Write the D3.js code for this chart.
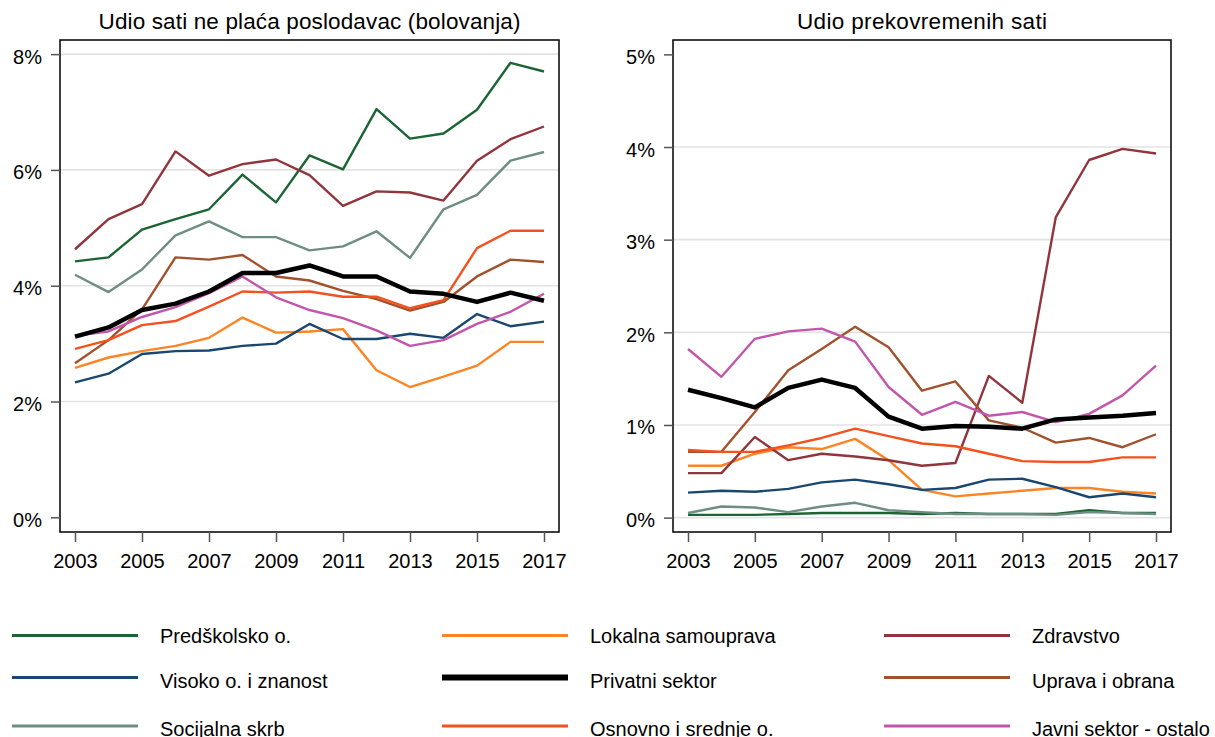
<!DOCTYPE html>
<html>
<head>
<meta charset="utf-8">
<script src="https://cdn.jsdelivr.net/npm/d3@7"></script>
<style>
  body { margin: 0; background: #fff; }
  text { font-family: "Liberation Sans", Arial, sans-serif; }
</style>
</head>
<body>
<script>
const svgWidth = 1215;
const svgHeight = 737;

const years = d3.range(2003, 2018);

// series in legend order (row by row)
const seriesNames = ["Predškolsko o.", "Lokalna samouprava", "Zdravstvo",
    "Visoko o. i znanost", "Privatni sektor", "Uprava i obrana",
    "Socijalna skrb", "Osnovno i srednje o.", "Javni sektor - ostalo"];
const seriesColors = ["#1c6434", "#fd8424", "#90353b",
    "#1a476f", "#000000", "#a0522d",
    "#6e8e84", "#f4511e", "#c256ac"];

// Udio sati ne plaća poslodavac (bolovanja), %
const sickPredskolsko = [4.42, 4.49, 4.97, 5.15, 5.32, 5.92, 5.44, 6.25, 6.01, 7.05, 6.54, 6.63, 7.04, 7.85, 7.70];
const sickLokalna     = [2.58, 2.76, 2.87, 2.96, 3.10, 3.45, 3.19, 3.21, 3.25, 2.54, 2.25, 2.43, 2.62, 3.03, 3.03];
const sickZdravstvo   = [4.63, 5.15, 5.41, 6.32, 5.90, 6.10, 6.18, 5.91, 5.38, 5.63, 5.61, 5.47, 6.16, 6.53, 6.75];
const sickVisoko      = [2.33, 2.48, 2.82, 2.87, 2.88, 2.96, 3.00, 3.34, 3.08, 3.08, 3.17, 3.10, 3.51, 3.30, 3.38];
const sickPrivatni    = [3.12, 3.28, 3.58, 3.69, 3.90, 4.22, 4.22, 4.35, 4.16, 4.16, 3.90, 3.86, 3.72, 3.88, 3.74];
const sickUprava      = [2.66, 3.06, 3.59, 4.49, 4.45, 4.53, 4.16, 4.09, 3.91, 3.77, 3.57, 3.72, 4.16, 4.45, 4.41];
const sickSocijalna   = [4.19, 3.89, 4.28, 4.87, 5.11, 4.84, 4.84, 4.61, 4.68, 4.94, 4.48, 5.32, 5.57, 6.16, 6.31];
const sickOsnovno     = [2.91, 3.06, 3.32, 3.39, 3.64, 3.90, 3.88, 3.90, 3.81, 3.81, 3.61, 3.75, 4.65, 4.95, 4.95];
const sickJavni       = [3.14, 3.21, 3.46, 3.63, 3.87, 4.16, 3.80, 3.58, 3.44, 3.23, 2.96, 3.06, 3.34, 3.55, 3.86];

// Udio prekovremenih sati, %
const overPredskolsko = [0.03, 0.03, 0.03, 0.04, 0.05, 0.05, 0.05, 0.04, 0.05, 0.04, 0.04, 0.04, 0.08, 0.05, 0.05];
const overLokalna     = [0.56, 0.56, 0.69, 0.76, 0.74, 0.85, 0.62, 0.30, 0.23, 0.26, 0.29, 0.32, 0.32, 0.28, 0.26];
const overZdravstvo   = [0.48, 0.48, 0.87, 0.62, 0.69, 0.66, 0.62, 0.56, 0.59, 1.53, 1.24, 3.24, 3.86, 3.98, 3.93];
const overVisoko      = [0.27, 0.29, 0.28, 0.31, 0.38, 0.41, 0.36, 0.30, 0.32, 0.41, 0.42, 0.33, 0.22, 0.26, 0.22];
const overPrivatni    = [1.38, 1.29, 1.19, 1.40, 1.49, 1.40, 1.09, 0.96, 0.99, 0.98, 0.96, 1.06, 1.08, 1.10, 1.13];
const overUprava      = [0.71, 0.71, 1.14, 1.59, 1.82, 2.06, 1.84, 1.37, 1.47, 1.05, 0.97, 0.81, 0.86, 0.76, 0.90];
const overSocijalna   = [0.05, 0.12, 0.11, 0.06, 0.12, 0.16, 0.08, 0.06, 0.04, 0.04, 0.04, 0.03, 0.06, 0.05, 0.04];
const overOsnovno     = [0.73, 0.71, 0.71, 0.78, 0.86, 0.96, 0.88, 0.80, 0.77, 0.69, 0.61, 0.60, 0.60, 0.65, 0.65];
const overJavni       = [1.82, 1.52, 1.93, 2.01, 2.04, 1.90, 1.41, 1.11, 1.25, 1.10, 1.14, 1.03, 1.12, 1.32, 1.64];

const sickSeries = [sickPredskolsko, sickLokalna, sickZdravstvo, sickVisoko, sickPrivatni,
    sickUprava, sickSocijalna, sickOsnovno, sickJavni];
const overSeries = [overPredskolsko, overLokalna, overZdravstvo, overVisoko, overPrivatni,
    overUprava, overSocijalna, overOsnovno, overJavni];

const sickTicks = [0, 2, 4, 6, 8];
const overTicks = [0, 1, 2, 3, 4, 5];
const yearTicks = [2003, 2005, 2007, 2009, 2011, 2013, 2015, 2017];

var svg = d3.select("body").append("svg")
    .attr("id", "chart")
    .attr("width", svgWidth)
    .attr("height", svgHeight);

// draws one panel
function drawPanel(opts) {
    const box = opts.box;
    const x = d3.scaleLinear().domain([2003, 2017]).range([box.x0 + 15, box.x1 - 15]);
    const y = d3.scaleLinear().domain(opts.domain).range([box.y1, box.y0]);

    const g = svg.append("g");

    // gridlines (not on the axis limits like Stata)
    g.selectAll(".grid")
    .data(opts.grid)
    .enter().append("line")
    .attr("x1", box.x0)
    .attr("x2", box.x1)
    .attr("y1", d => y(d))
    .attr("y2", d => y(d))
    .attr("stroke", "#e3e3e3")
    .attr("stroke-width", 1.6);

    const line = d3.line()
    .x((d, i) => x(years[i]))
    .y(d => y(d));

    // draw all except black, then black on top
    const order = [0, 1, 2, 3, 5, 6, 7, 8, 4];
    order.forEach(k => {
        g.append("path")
        .datum(opts.series[k])
        .attr("d", line)
        .attr("fill", "none")
        .attr("stroke", seriesColors[k])
        .attr("stroke-width", k == 4 ? 4.5 : 2.4)
        .attr("stroke-linejoin", "round");
    });

    // frame
    g.append("rect")
    .attr("x", box.x0)
    .attr("y", box.y0)
    .attr("width", box.x1 - box.x0)
    .attr("height", box.y1 - box.y0)
    .attr("fill", "none")
    .attr("stroke", "#000")
    .attr("stroke-width", 1.5);

    const yAxis = d3.axisLeft(y)
    .tickValues(opts.ticks)
    .tickSize(9)
    .tickPadding(9)
    .tickFormat(d => d + "%");

    const ya = g.append("g")
    .attr("transform", `translate(${box.x0}, 0)`)
    .call(yAxis);
    ya.select(".domain").remove();
    ya.selectAll("line").attr("stroke", "#555").attr("stroke-width", 1.5);
    ya.selectAll("text")
    .attr("font-size", 20)
    .attr("font-family", "Liberation Sans, Arial, sans-serif")
    .attr("fill", "#000")
    .attr("dy", "0.45em");

    const xAxis = d3.axisBottom(x)
    .tickValues(yearTicks)
    .tickSize(10)
    .tickPadding(12)
    .tickFormat(d3.format("d"));

    const xa = g.append("g")
    .attr("transform", `translate(0, ${box.y1})`)
    .call(xAxis);
    xa.select(".domain").remove();
    xa.selectAll("line").attr("stroke", "#555").attr("stroke-width", 1.5);
    xa.selectAll("text")
    .attr("font-size", 20)
    .attr("font-family", "Liberation Sans, Arial, sans-serif")
    .attr("fill", "#000");

    // title, fitted to the width the original has
    g.append("text")
    .text(opts.title)
    .attr("x", (box.x0 + box.x1) / 2)
    .attr("y", 29)
    .attr("font-size", 22.5)
    .attr("text-anchor", "middle")
    .attr("textLength", opts.titleWidth)
    .attr("lengthAdjust", "spacing");
}

drawPanel({
    box: {x0: 60, x1: 559, y0: 40, y1: 532},
    domain: [-0.254, 8.244],
    grid: [2, 4, 6, 8],
    ticks: sickTicks,
    series: sickSeries,
    title: "Udio sati ne plaća poslodavac (bolovanja)",
    titleWidth: 422
});

drawPanel({
    box: {x0: 673, x1: 1171, y0: 40, y1: 532},
    domain: [-0.155, 5.155],
    grid: [0, 1, 2, 3, 4],
    ticks: overTicks,
    series: overSeries,
    title: "Udio prekovremenih sati",
    titleWidth: 250
});

// legend, 3 columns row by row
const legX = [12, 442, 884];
const legY = [635.5, 677.5, 726];
const legend = svg.append("g");
seriesNames.forEach((name, i) => {
    const col = i % 3, row = Math.floor(i / 3);
    legend.append("line")
    .attr("x1", legX[col])
    .attr("x2", legX[col] + 126)
    .attr("y1", legY[row])
    .attr("y2", legY[row])
    .attr("stroke", seriesColors[i])
    .attr("stroke-width", i == 4 ? 6 : 3);
    legend.append("text")
    .text(name)
    .attr("x", legX[col] + 148)
    .attr("y", legY[row] + 7 + (row > 0 ? 3 : 0))
    .attr("font-size", 20);
});
</script>
</body>
</html>
